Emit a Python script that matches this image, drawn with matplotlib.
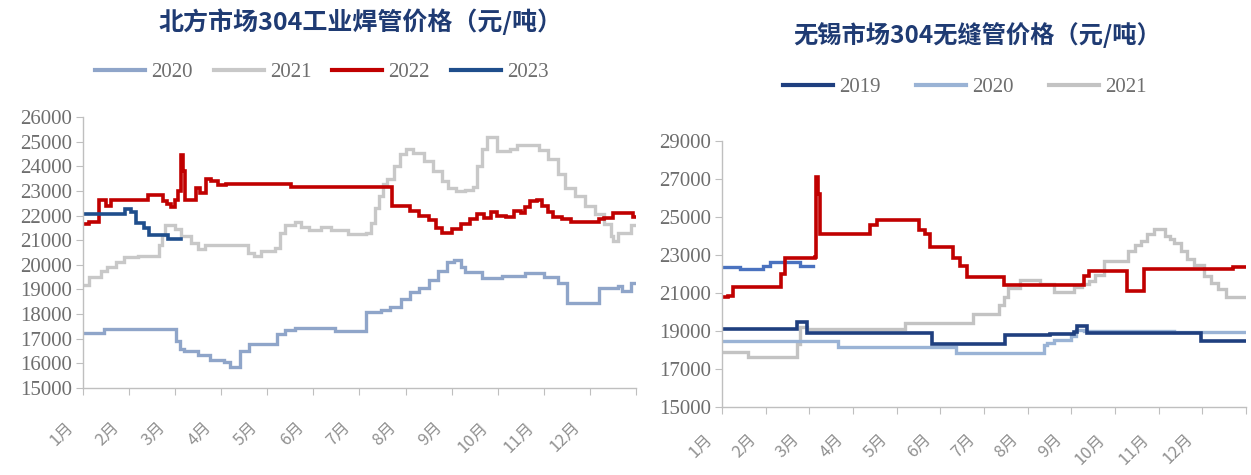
import matplotlib
matplotlib.use("Agg")
import matplotlib.pyplot as plt
from matplotlib.lines import Line2D
from matplotlib.transforms import ScaledTranslation

# ---------------- data ----------------
month_labels = ["1月", "2月", "3月", "4月", "5月", "6月", "7月", "8月", "9月", "10月", "11月", "12月"]

left_title = "北方市场304工业焊管价格（元/吨）"
right_title = "无锡市场304无缝管价格（元/吨）"

# Left chart (month position, price) step series
L2020_m = [0, 0.46, 2.02, 2.1, 2.2, 2.5, 2.76, 3.05, 3.2, 3.4, 3.6, 4.2, 4.38, 4.6, 5.46, 6.15, 6.46, 6.67,
           6.9, 7.1, 7.3, 7.5, 7.7, 7.9, 8.05, 8.2, 8.3, 8.65, 9.1, 9.6, 10.0, 10.3, 10.5, 11.2, 11.6, 11.7, 11.9, 12.0]
L2020_v = [17250, 17400, 16900, 16600, 16500, 16350, 16150, 16050, 15850, 16500, 16800, 17200, 17350, 17450,
           17300, 18100, 18150, 18300, 18600, 18900, 19050, 19400, 19750, 20100, 20200, 19900, 19700, 19450,
           19550, 19650, 19500, 19250, 18450, 19050, 19150, 18950, 19250, 19250]

L2021_m = [0, 0.14, 0.38, 0.53, 0.72, 0.9, 1.2, 1.6, 1.66, 1.72, 1.78, 2.0, 2.13, 2.35, 2.5, 2.64, 3.4, 3.58,
           3.7, 3.87, 4.16, 4.27, 4.38, 4.6, 4.74, 4.9, 5.17, 5.39, 5.75, 6.15, 6.25, 6.33, 6.42, 6.5, 6.6,
           6.75, 6.88, 7.0, 7.17, 7.39, 7.6, 7.8, 7.93, 8.1, 8.3, 8.47, 8.55, 8.65, 8.77, 8.98, 9.27, 9.42,
           9.9, 10.1, 10.3, 10.45, 10.67, 10.9, 11.1, 11.3, 11.45, 11.5, 11.6, 11.9, 12.0]
L2021_v = [19200, 19500, 19750, 19900, 20100, 20300, 20350, 20350, 20800, 21200, 21600, 21450, 21150, 20900,
           20650, 20800, 20800, 20500, 20350, 20550, 20700, 21300, 21600, 21750, 21550, 21400, 21550, 21400,
           21250, 21300, 21700, 22300, 22800, 23300, 23500, 24000, 24500, 24700, 24550, 24200, 23800, 23400,
           23100, 23000, 23050, 23150, 24000, 24700, 25200, 24600, 24700, 24850, 24650, 24300, 23700, 23100,
           22800, 22400, 22050, 21650, 21150, 20950, 21300, 21600, 21600]

L2022_m = [0, 0.14, 0.35, 0.5, 0.6, 1.4, 1.73, 1.82, 1.9, 2.0, 2.07, 2.13, 2.18, 2.22, 2.46, 2.53, 2.67, 2.78,
           2.93, 3.1, 4.52, 6.7, 7.1, 7.3, 7.5, 7.65, 7.8, 8.0, 8.2, 8.4, 8.55, 8.7, 8.85, 8.98, 9.17, 9.35,
           9.5, 9.6, 9.7, 9.85, 9.96, 10.1, 10.2, 10.4, 10.6, 11.2, 11.3, 11.5, 11.93, 12.0]
L2022_v = [21650, 21750, 22650, 22400, 22650, 22850, 22600, 22450, 22350, 22650, 23000, 24450, 23800, 22650,
           23100, 22900, 23500, 23400, 23250, 23300, 23150, 22400, 22200, 22000, 21800, 21500, 21300, 21450,
           21650, 21850, 22050, 21900, 22150, 22000, 21950, 22200, 22100, 22350, 22600, 22650, 22400, 22150,
           21950, 21850, 21750, 21850, 21900, 22100, 21950, 21950]

L2023_m = [0, 0.92, 1.05, 1.15, 1.33, 1.44, 1.84, 2.13]
L2023_v = [22050, 22250, 22150, 21700, 21500, 21200, 21050, 21050]

# Right chart
R2019_m = [0, 1.71, 1.94, 4.81, 6.49, 7.52, 8.06, 8.13, 8.36, 10.96, 12.0]
R2019_v = [19100, 19450, 18900, 18300, 18800, 18850, 18950, 19250, 18900, 18450, 18450]

R2020_m = [0, 2.66, 5.35, 7.37, 7.45, 7.6, 8.0, 8.1, 8.3, 10.35, 12.0]
R2020_v = [18450, 18150, 17850, 18250, 18350, 18550, 18750, 19050, 19000, 18950, 18950]

R2021_m = [0, 0.6, 1.68, 1.72, 1.79, 1.94, 4.2, 5.75, 6.35, 6.45, 6.56, 6.83, 7.29, 7.6, 8.06, 8.25, 8.4,
           8.55, 8.75, 9.3, 9.45, 9.6, 9.74, 9.9, 10.15, 10.25, 10.35, 10.5, 10.66, 10.81, 11.04, 11.2,
           11.35, 11.55, 12.0]
R2021_v = [17900, 17650, 17650, 18300, 19200, 19100, 19400, 19900, 20350, 20800, 21250, 21700, 21450, 21050,
           21300, 21450, 21650, 21950, 22700, 23200, 23500, 23750, 24100, 24350, 24000, 23850, 23650, 23200,
           22800, 22450, 21900, 21550, 21200, 20800, 20800]

R2022_m = [0, 0.14, 0.25, 1.29, 1.36, 1.44, 2.13, 2.16, 2.2, 2.24, 3.39, 3.54, 4.38, 4.5, 4.65, 4.76, 5.3,
           5.45, 5.6, 6.45, 8.28, 8.4, 9.24, 9.27, 9.66, 11.7, 12.0]
R2022_v = [20800, 20850, 21300, 21300, 22000, 22850, 22900, 27100, 26200, 24100, 24600, 24850, 24850, 24300,
           24100, 23400, 22850, 22400, 21850, 21400, 21900, 22150, 22150, 21100, 22250, 22350, 22350]

R2023_m = [0, 0.41, 0.95, 1.1, 1.79, 2.09]
R2023_v = [22350, 22250, 22400, 22650, 22400, 22400]

left_series = [("2020", L2020_m, L2020_v, "#8FA5C9", 2.4),
               ("2021", L2021_m, L2021_v, "#C8C8C8", 2.4),
               ("2022", L2022_m, L2022_v, "#C00000", 2.6),
               ("2023", L2023_m, L2023_v, "#1F4E8C", 2.6)]

right_series = [("2021", R2021_m, R2021_v, "#C3C3C3", 2.4),
                ("2020", R2020_m, R2020_v, "#9AB3D5", 2.4),
                ("2019", R2019_m, R2019_v, "#1F3F7F", 2.6),
                ("2023", R2023_m, R2023_v, "#4A72BF", 2.4),
                ("2022", R2022_m, R2022_v, "#C00000", 2.6)]

# ---------------- plotting ----------------
W, H = 1251, 475
fig = plt.figure(figsize=(W / 100, H / 100), dpi=100)

AX_COL = "#BFBFBF"
TXT_COL = "#6E6E6E"
SERIF = ["Liberation Serif", "DejaVu Serif"]
CJK = ["Noto Sans CJK SC", "DejaVu Sans"]


def setup_axes(ax, yticks, xpad):
    ax.set_xlim(0, 12)
    ax.set_ylim(yticks[0], yticks[-1])
    for s in ["top", "right"]:
        ax.spines[s].set_visible(False)
    for s in ["left", "bottom"]:
        ax.spines[s].set_color(AX_COL)
        ax.spines[s].set_linewidth(1.0)
    ax.set_yticks(yticks)
    ax.set_yticklabels([str(t) for t in yticks], fontfamily=SERIF, fontsize=15, color=TXT_COL)
    ax.set_xticks(range(13))
    ax.set_xticklabels(month_labels + [""], fontfamily=CJK, fontsize=12, color="#909090",
                       rotation=45, ha="right", fontweight="light")
    ax.tick_params(axis="y", length=5, color=AX_COL, pad=3)
    ax.tick_params(axis="x", length=5, color=AX_COL, pad=xpad)
    shift = ScaledTranslation(-0.06, 0, fig.dpi_scale_trans)
    for lab in ax.get_xticklabels():
        lab.set_transform(lab.get_transform() + shift)


# Left chart
axL = fig.add_axes([83 / W, 1 - 388 / H, (636 - 83) / W, (388 - 117) / H])
for name, m, v, c, lw in left_series:
    axL.plot(m, v, drawstyle="steps-post", color=c, lw=lw, label=name, solid_joinstyle="miter")
setup_axes(axL, list(range(15000, 26001, 1000)), 17)
handles = [Line2D([], [], color=c, lw=3) for _, _, _, c, _ in left_series]
fig.legend(handles, [n for n, *_ in left_series], loc="center", bbox_to_anchor=(322 / W, 1 - 72 / H),
           ncol=4, frameon=False, prop={"family": SERIF, "size": 15}, labelcolor=TXT_COL,
           handlelength=2.4, handletextpad=0.3, columnspacing=1.0)
fig.text(360 / W, 1 - 22 / H, left_title, ha="center", va="center", fontfamily=CJK,
         fontweight="bold", fontsize=18, color="#1F3B73")

# Right chart
axR = fig.add_axes([722 / W, 1 - 407 / H, (1246 - 722) / W, (407 - 141) / H])
for name, m, v, c, lw in right_series:
    axR.plot(m, v, drawstyle="steps-post", color=c, lw=lw, label=name, solid_joinstyle="miter")
setup_axes(axR, list(range(15000, 29001, 2000)), 12)
leg_order = ["2019", "2020", "2021"]
lookup = {n: c for n, _, _, c, _ in right_series}
handles = [Line2D([], [], color=lookup[n], lw=3) for n in leg_order]
fig.legend(handles, leg_order, loc="center", bbox_to_anchor=(965 / W, 1 - 87 / H),
           ncol=3, frameon=False, prop={"family": SERIF, "size": 15}, labelcolor=TXT_COL,
           handlelength=2.4, handletextpad=0.3, columnspacing=1.7)
fig.text(977 / W, 1 - 35 / H, right_title, ha="center", va="center", fontfamily=CJK,
         fontweight="bold", fontsize=17.5, color="#1F3B73")

fig.savefig("out.png", dpi=100, facecolor="white")
